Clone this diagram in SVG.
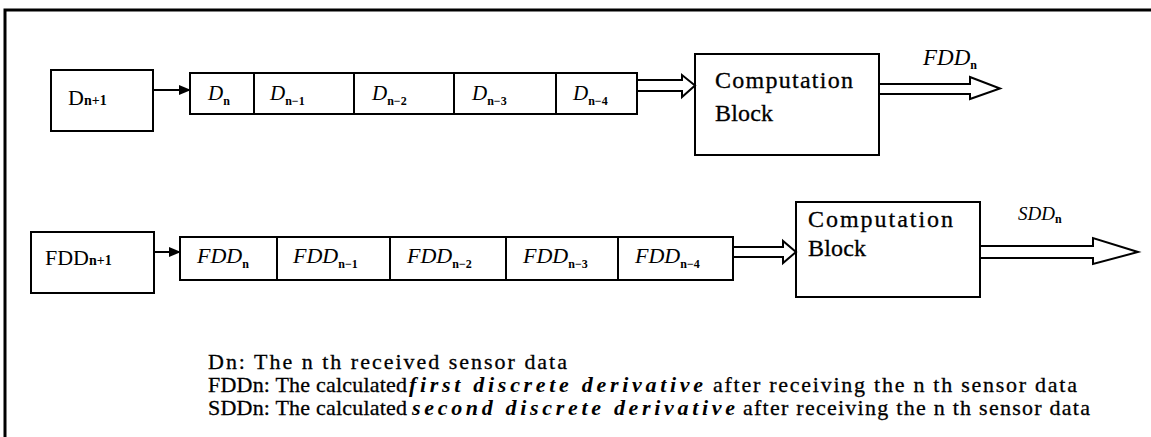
<svg xmlns="http://www.w3.org/2000/svg" width="1151" height="437" viewBox="0 0 1151 437" font-family="'Liberation Serif', 'Times New Roman', 'DejaVu Serif', serif">
  <style>
    .box { fill: #fff; stroke: #000; stroke-width: 2; }
    .wire { fill: none; stroke: #000; stroke-width: 2; }
    .bus { fill: #fff; stroke: #000; stroke-width: 2; stroke-linejoin: miter; }
    text { font-family: 'Liberation Serif', 'Times New Roman', 'DejaVu Serif', serif; fill: #000; }
    .it { font-style: italic; }
    .sub { font-weight: bold; font-style: normal; font-size: 12px; }
    .note { stroke: #000; stroke-width: 0.3; }
  </style>
  <defs>
    <marker id="tri" markerWidth="12" markerHeight="10" refX="11" refY="5" orient="auto" markerUnits="userSpaceOnUse">
      <path d="M0,0 L12,5 L0,10 Z" fill="#000"/>
    </marker>
  </defs>

  <rect width="1151" height="437" fill="#fff"/>
  <!-- frame -->
  <path d="M5,437 V10 H1151" fill="none" stroke="#000" stroke-width="3"/>

  <!-- first row -->
  <g id="d-next">
    <rect class="box" x="51" y="70" width="102" height="61"/>
    <text x="68" y="105" font-size="22">D<tspan font-size="14" font-weight="bold">n+1</tspan></text>
  </g>
  <g id="d-register">
    <rect class="box" x="190" y="73" width="447" height="41"/>
    <path class="wire" d="M254,73 V114 M354,73 V114 M454,73 V114 M556,73 V114"/>
    <text class="it" x="208" y="100" font-size="21">D<tspan class="sub" dy="5">n</tspan></text>
    <text class="it" x="270" y="100" font-size="21">D<tspan class="sub" dy="5">n−1</tspan></text>
    <text class="it" x="372" y="100" font-size="21">D<tspan class="sub" dy="5">n−2</tspan></text>
    <text class="it" x="472" y="100" font-size="21">D<tspan class="sub" dy="5">n−3</tspan></text>
    <text class="it" x="573" y="100" font-size="21">D<tspan class="sub" dy="5">n−4</tspan></text>
  </g>
  <g id="compute-1">
    <rect class="box" x="695" y="54" width="184" height="101"/>
    <text class="note" x="715" y="88" font-size="24" textLength="138" lengthAdjust="spacing">Computation</text>
    <text class="note" x="715" y="121" font-size="24" textLength="58" lengthAdjust="spacing">Block</text>
  </g>
  <g id="fdd-label">
    <text class="it" x="923" y="65" font-size="23">FDD<tspan class="sub" dy="4">n</tspan></text>
  </g>

  <!-- second row -->
  <g id="fdd-next">
    <rect class="box" x="31" y="232" width="123" height="61"/>
    <text x="45" y="265" font-size="22">FDD<tspan font-size="14" font-weight="bold">n+1</tspan></text>
  </g>
  <g id="fdd-register">
    <rect class="box" x="180" y="237" width="553" height="43"/>
    <path class="wire" d="M277,237 V280 M390,237 V280 M506,237 V280 M618,237 V280"/>
    <text class="it" x="197" y="263" font-size="22">FDD<tspan class="sub" dy="5">n</tspan></text>
    <text class="it" x="293" y="263" font-size="22">FDD<tspan class="sub" dy="5">n−1</tspan></text>
    <text class="it" x="407" y="263" font-size="22">FDD<tspan class="sub" dy="5">n−2</tspan></text>
    <text class="it" x="523" y="263" font-size="22">FDD<tspan class="sub" dy="5">n−3</tspan></text>
    <text class="it" x="635" y="263" font-size="22">FDD<tspan class="sub" dy="5">n−4</tspan></text>
  </g>
  <g id="compute-2">
    <rect class="box" x="796" y="202" width="184" height="95"/>
    <text class="note" x="808" y="227" font-size="24" textLength="145" lengthAdjust="spacing">Computation</text>
    <text class="note" x="808" y="256" font-size="24" textLength="58" lengthAdjust="spacing">Block</text>
  </g>
  <g id="sdd-label">
    <text class="it" x="1018" y="220" font-size="19">SDD<tspan class="sub" font-size="10" dy="3">n</tspan></text>
  </g>

  <!-- connectors -->
  <g id="connectors">
    <line class="wire" x1="153" y1="90" x2="190" y2="90" marker-end="url(#tri)"/>
    <line class="wire" x1="154" y1="252" x2="180" y2="252" marker-end="url(#tri)"/>
    <path class="bus" d="M637,80 H682 V75 L695,85.5 L682,97 V91 H637 Z"/>
    <path class="bus" d="M879,84 H970 V77 L1000,88.5 L970,99 V94 H879 Z"/>
    <path class="bus" d="M733,247 H783 V241 L796,252 L783,263 V257 H733 Z"/>
    <path class="bus" d="M980,246 H1093 V238 L1138,252 L1093,264 V258 H980 Z"/>
  </g>

  <!-- legend -->
  <g id="legend" font-size="22">
    <text class="note" x="208" y="369" textLength="359" lengthAdjust="spacing">Dn: The n th received sensor data</text>
    <text class="note" x="208" y="392" textLength="199" lengthAdjust="spacing">FDDn: The calculated</text>
    <text class="it" x="409" y="392" font-weight="bold" textLength="294" lengthAdjust="spacing">first discrete derivative</text>
    <text class="note" x="713" y="392" textLength="364" lengthAdjust="spacing">after receiving the n th sensor data</text>
    <text class="note" x="208" y="415" textLength="199" lengthAdjust="spacing">SDDn: The calculated</text>
    <text class="it" x="412" y="415" font-weight="bold" textLength="323" lengthAdjust="spacing">second discrete derivative</text>
    <text class="note" x="743" y="415" textLength="347" lengthAdjust="spacing">after receiving the n th sensor data</text>
  </g>
</svg>
